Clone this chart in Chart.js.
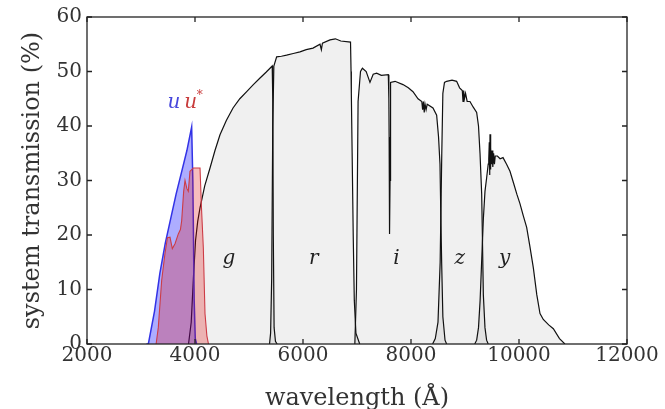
<!DOCTYPE html>
<html>
<head>
<meta charset="utf-8">
<script src="https://cdn.jsdelivr.net/npm/chart.js@4/dist/chart.umd.min.js"></script>
<style>
  html, body { margin: 0; padding: 0; background: #fff; }
  #wrap { width: 665px; height: 409px; }
</style>
</head>
<body>
<div id="wrap"><canvas id="filters"></canvas></div>
<script>
// wavelength (A) and transmission (%)
const uWave = [3100, 3136, 3250, 3350, 3450, 3550, 3650, 3750, 3850, 3938, 3960, 3985, 4005, 4030]
const uTrans = [0, 0, 6, 13, 18.5, 23, 27.5, 31.5, 35.5, 39.8, 30, 8, 1, 0]

const uStarWave = [3280, 3320, 3383, 3444, 3490, 3537, 3580, 3630, 3691, 3730, 3753, 3790, 3815, 3850, 3876, 3907, 3969, 4093, 4120, 4154, 4185, 4220, 4250]
const uStarTrans = [0, 3, 11.7, 16.6, 19.5, 19.6, 17.5, 18.4, 20.2, 21, 22.6, 28, 30, 28.5, 28, 31.7, 32.3, 32.3, 25, 17.7, 5.6, 1.5, 0]

const gWave = [3880, 3930, 3970, 4010, 4050, 4093, 4180, 4278, 4370, 4463, 4580, 4704, 4830, 4957, 5080, 5204, 5320, 5430, 5440, 5450, 5465, 5490, 5520]
const gTrans = [0, 4, 12, 19, 22.5, 25, 29, 32.3, 35.5, 38.4, 41, 43.3, 45, 46.3, 47.6, 48.8, 49.9, 51, 45, 20, 3, 0.5, 0]

const rWave = [5380, 5400, 5420, 5440, 5460, 5512, 5600, 5696, 5820, 5944, 6060, 6185, 6315, 6340, 6360, 6500, 6600, 6700, 6880, 6890, 6895, 6910, 6930, 6950, 6980, 7050]
const rTrans = [0, 2, 12, 40, 51, 52.7, 52.8, 53, 53.3, 53.6, 54, 54.3, 55, 54, 55.2, 55.8, 56, 55.6, 55.4, 50, 46, 35, 20, 8, 2, 0]

const iWave = [6960, 6990, 7020, 7065, 7100, 7170, 7240, 7300, 7364, 7450, 7580, 7590, 7595, 7600, 7605, 7612, 7618, 7625, 7704, 7852, 7950, 8037, 8130, 8200, 8215, 8230, 8245, 8260, 8280, 8300, 8407, 8475, 8510, 8537, 8555, 8568, 8590, 8630, 8660]
const iTrans = [0, 10, 44.5, 50, 50.6, 50, 48, 49.5, 49.7, 49.3, 49.4, 45, 38, 28, 20.2, 30, 40, 48, 48.2, 47.6, 47, 46.3, 45, 44.5, 43, 44.5, 42.5, 44, 43, 44, 43.3, 42, 38, 33, 22, 14.8, 5, 0.7, 0]

const zWave = [8400, 8450, 8500, 8540, 8570, 8590, 8620, 8660, 8760, 8845, 8900, 8950, 8963, 8975, 8990, 9010, 9040, 9092, 9150, 9216, 9250, 9278, 9309, 9325, 9340, 9370, 9400, 9430]
const zTrans = [0, 1, 4, 15, 35, 46, 48, 48.2, 48.4, 48.2, 47, 46.5, 44.5, 46.5, 45, 46, 44.5, 44.5, 43.5, 42.5, 40, 35, 27.5, 18, 9, 3, 0.7, 0]

const yWave = [9180, 9216, 9250, 9280, 9309, 9340, 9370, 9401, 9430, 9440, 9450, 9458, 9463, 9470, 9480, 9490, 9500, 9515, 9530, 9545, 9560, 9600, 9650, 9704, 9770, 9833, 9900, 9960, 10019, 10080, 10142, 10200, 10265, 10330, 10389, 10450, 10550, 10636, 10750, 10850]
const yTrans = [0, 0.7, 3, 8, 15.3, 23, 28, 30.5, 33, 34, 37, 31, 38.5, 32, 36, 33, 35.5, 32.5, 35, 33, 34.5, 34.5, 34, 34.2, 33, 31.7, 29.5, 27.5, 25.7, 23.5, 21.4, 18, 14, 9, 5.6, 4.5, 3.5, 2.8, 1, 0]

const xTicks = [2000, 4000, 6000, 8000, 10000, 12000]
const yTicks = [0, 10, 20, 30, 40, 50, 60]

// filter names placed in data units
const bandNames = ['g', 'r', 'i', 'z', 'y']
const bandNameX = [4630, 6200, 7730, 8905, 9735]
const bandNameY = 15.7

function toPoints(wave, trans) {
  return wave.map((w, i) => ({ x: w, y: trans[i] }))
}

function band(label, wave, trans, line, fillColor, width) {
  return {
    label: label,
    data: toPoints(wave, trans),
    borderColor: line,
    backgroundColor: fillColor,
    borderWidth: width,
    fill: 'origin',
    pointRadius: 0,
    tension: 0
  }
}

const grey = 'rgba(0, 0, 0, 0.06)'

// dataset 0 ends up on top
const datasets = [
  band('u*', uStarWave, uStarTrans, 'rgb(205, 60, 70)', 'rgba(225, 0, 0, 0.26)', 1.1),
  band('u', uWave, uTrans, 'rgb(50, 50, 230)', 'rgba(0, 0, 255, 0.32)', 1.5),
  band('g', gWave, gTrans, '#111', grey, 1.2),
  band('r', rWave, rTrans, '#111', grey, 1.2),
  band('i', iWave, iTrans, '#111', grey, 1.2),
  band('z', zWave, zTrans, '#111', grey, 1.2),
  band('y', yWave, yTrans, '#111', grey, 1.2)
]

const serif = '"DejaVu Serif", serif'

// box round the plot, inward ticks, and the band names
const framePlugin = {
  id: 'frame',
  afterDraw(chart) {
    const ctx = chart.ctx
    const area = chart.chartArea
    const xs = chart.scales.x
    const ys = chart.scales.y
    ctx.save()
    ctx.strokeStyle = '#222'
    ctx.lineWidth = 1.3
    ctx.strokeRect(area.left, area.top, area.right - area.left, area.bottom - area.top)
    ctx.beginPath()
    xTicks.forEach((t) => {
      const px = xs.getPixelForValue(t)
      ctx.moveTo(px, area.bottom); ctx.lineTo(px, area.bottom - 5)
      ctx.moveTo(px, area.top); ctx.lineTo(px, area.top + 5)
    })
    yTicks.forEach((t) => {
      const py = ys.getPixelForValue(t)
      ctx.moveTo(area.left, py); ctx.lineTo(area.left + 5, py)
      ctx.moveTo(area.right, py); ctx.lineTo(area.right - 5, py)
    })
    ctx.stroke()

    ctx.font = 'italic 20px ' + serif
    ctx.textAlign = 'center'
    ctx.textBaseline = 'middle'
    ctx.fillStyle = '#222'
    bandNames.forEach((name, i) => {
      ctx.fillText(name, xs.getPixelForValue(bandNameX[i]), ys.getPixelForValue(bandNameY))
    })
    const ly = ys.getPixelForValue(44.3)
    ctx.fillStyle = 'rgb(70, 70, 220)'
    ctx.fillText('u', xs.getPixelForValue(3610), ly)
    ctx.fillStyle = 'rgb(200, 60, 60)'
    ctx.fillText('u', xs.getPixelForValue(3920), ly)
    ctx.font = '12px ' + serif
    ctx.fillText('*', xs.getPixelForValue(4090), ly - 7)
    ctx.restore()
  }
}

const config = {
  type: 'line',
  data: { datasets: datasets },
  options: {
    responsive: true,
    maintainAspectRatio: false,
    animation: false,
    layout: { padding: { top: 15, right: 38, left: 0, bottom: 0 } },
    plugins: {
      legend: { display: false },
      tooltip: { enabled: false }
    },
    scales: {
      x: {
        type: 'linear',
        min: 2000,
        max: 12000,
        afterBuildTicks: (scale) => { scale.ticks = xTicks.map((v) => ({ value: v })) },
        afterFit: (scale) => { scale.height = 65 },
        grid: { display: false, drawTicks: false },
        border: { display: false },
        ticks: {
          color: '#333', padding: 0, maxRotation: 0,
          font: { family: serif, size: 20 },
          callback: (v) => String(v)
        },
        title: {
          display: true,
          text: 'wavelength (Å)',
          color: '#333',
          padding: { top: 0, bottom: 1 },
          font: { family: serif, size: 24, lineHeight: 0.8 }
        }
      },
      y: {
        min: 0,
        max: 60,
        afterBuildTicks: (scale) => { scale.ticks = yTicks.map((v) => ({ value: v })) },
        afterFit: (scale) => { scale.width = 87 },
        grid: { display: false, drawTicks: false },
        border: { display: false },
        ticks: {
          color: '#333', padding: 5,
          font: { family: serif, size: 20 },
          callback: (v) => String(v)
        },
        title: {
          display: true,
          text: 'system transmission (%)',
          color: '#333',
          padding: { top: 18, bottom: 0 },
          font: { family: serif, size: 24 }
        }
      }
    }
  },
  plugins: [framePlugin]
}

const filterChart = new Chart(document.getElementById('filters'), config)
</script>
</body>
</html>
